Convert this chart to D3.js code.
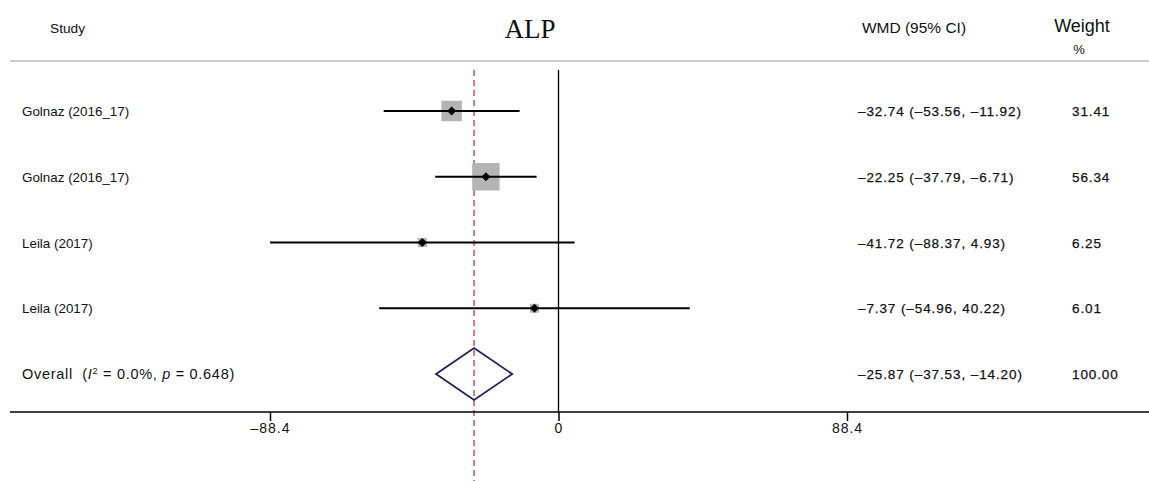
<!DOCTYPE html>
<html>
<head>
<meta charset="utf-8">
<script src="https://cdn.jsdelivr.net/npm/d3@7"></script>
<style>
  html, body { margin: 0; padding: 0; background: #fff; }
  text { font-family: "Liberation Sans", Arial, Helvetica, sans-serif; fill: #111; white-space: pre; }
</style>
</head>
<body>
<svg id="chart" width="1149" height="481"></svg>
<script>
// Study-level estimates (WMD with 95% CI) and weights
const studies = ["Golnaz (2016_17)", "Golnaz (2016_17)", "Leila (2017)", "Leila (2017)"];
const estimates = [-32.74, -22.25, -41.72, -7.37];
const lower = [-53.56, -37.79, -88.37, -54.96];
const upper = [-11.92, -6.71, 4.93, 40.22];
const weights = [31.41, 56.34, 6.25, 6.01];

// Pooled estimate
const overall = { est: -25.87, lo: -37.53, hi: -14.20, weight: 100.00 };
const overallLabel = "Overall";
const heterogeneity = { i2: "0.0%", p: "0.648" };

const axisTicks = [-88.4, 0, 88.4];
const axisTickLabels = ["\u201388.4", "0", "88.4"];

const svg = d3.select("#chart");
const W = 1149, H = 481;

const x = d3.scaleLinear().domain([-88.4, 88.4]).range([270, 847]);
const rowIdx = d3.range(studies.length + 1);
const y = d3.scalePoint().domain(rowIdx).range([111, 374]);
const boxSide = d => 3.65 * Math.sqrt(d);

const axisY = 412;
const fmt = v => (v < 0 ? "\u2013" : "") + Math.abs(v).toFixed(2);

// Numeric columns are set a touch heavier and wider-tracked
const numText = sel => sel.attr("font-size", 13.5).attr("letter-spacing", 0.9)
  .attr("stroke", "#111").attr("stroke-width", 0.25);

// Header
svg.append("text").attr("x", 50).attr("y", 33).attr("font-size", 13.7).text("Study");
svg.append("text").attr("x", 530).attr("y", 38).attr("text-anchor", "middle")
  .attr("font-size", 27).style("font-family", "'Liberation Serif', 'Times New Roman', serif").text("ALP");
svg.append("text").attr("x", 914).attr("y", 33).attr("text-anchor", "middle").attr("font-size", 15.5).text("WMD (95% CI)");
svg.append("text").attr("x", 1082).attr("y", 32).attr("text-anchor", "middle").attr("font-size", 18).text("Weight");
svg.append("text").attr("x", 1079).attr("y", 54).attr("text-anchor", "middle").attr("font-size", 13).text("%");

svg.append("line").attr("x1", 10).attr("x2", W).attr("y1", 61).attr("y2", 61)
  .attr("stroke", "#bdbdbd").attr("stroke-width", 1.5);

// Null line
svg.append("line").attr("x1", x(0)).attr("x2", x(0)).attr("y1", 70).attr("y2", axisY)
  .attr("stroke", "#000").attr("stroke-width", 1.3);

// Overall effect dashed line
svg.append("line").attr("x1", x(overall.est)).attr("x2", x(overall.est)).attr("y1", 70).attr("y2", H)
  .attr("stroke", "#b0404d").attr("stroke-width", 1.3).attr("stroke-dasharray", "6,4");

// Study rows
studies.forEach((s, i) => {
  const cy = y(i);
  const side = boxSide(weights[i]);
  svg.append("rect").attr("x", x(estimates[i]) - side / 2).attr("y", cy - side / 2)
    .attr("width", side).attr("height", side).attr("fill", "#b4b4b4");
  svg.append("line").attr("x1", x(lower[i])).attr("x2", x(upper[i])).attr("y1", cy).attr("y2", cy)
    .attr("stroke", "#000").attr("stroke-width", 2);
  const r = 4.5;
  const cx = x(estimates[i]);
  svg.append("path")
    .attr("d", `M${cx - r},${cy} L${cx},${cy - r} L${cx + r},${cy} L${cx},${cy + r} Z`)
    .attr("fill", "#000");
  svg.append("text").attr("x", 22).attr("y", cy + 5).attr("font-size", 13.4).text(s);
  svg.append("text").attr("x", 858).attr("y", cy + 5)
    .text(`${fmt(estimates[i])} (${fmt(lower[i])}, ${fmt(upper[i])})`).call(numText);
  svg.append("text").attr("x", 1072).attr("y", cy + 5).text(weights[i].toFixed(2)).call(numText);
});

// Overall row
const oy = y(studies.length);
const dh = 26;
svg.append("path")
  .attr("d", `M${x(overall.lo)},${oy} L${x(overall.est)},${oy - dh} L${x(overall.hi)},${oy} L${x(overall.est)},${oy + dh} Z`)
  .attr("fill", "none").attr("stroke", "#1f1f5e").attr("stroke-width", 1.8);

const ot = svg.append("text").attr("x", 22).attr("y", oy + 5).attr("font-size", 14.5).attr("letter-spacing", 0.7);
ot.append("tspan").text(overallLabel + "  (");
ot.append("tspan").attr("font-style", "italic").text("I");
ot.append("tspan").attr("font-size", 9).attr("dy", -5).text("2");
ot.append("tspan").attr("dy", 5).text(` = ${heterogeneity.i2}, `);
ot.append("tspan").attr("font-style", "italic").text("p");
ot.append("tspan").text(` = ${heterogeneity.p})`);

svg.append("text").attr("x", 858).attr("y", oy + 5)
  .text(`${fmt(overall.est)} (${fmt(overall.lo)}, ${fmt(overall.hi)})`).call(numText);
svg.append("text").attr("x", 1072).attr("y", oy + 5).text(overall.weight.toFixed(2)).call(numText);

// X axis
svg.append("line").attr("x1", 10).attr("x2", W).attr("y1", axisY).attr("y2", axisY)
  .attr("stroke", "#000").attr("stroke-width", 1.5);
const axis = d3.axisBottom(x).tickValues(axisTicks).tickSize(9).tickPadding(2)
  .tickFormat((d, i) => axisTickLabels[i]);
const ag = svg.append("g").attr("transform", `translate(0,${axisY})`).call(axis);
ag.select(".domain").remove();
ag.selectAll(".tick line").attr("stroke", "#000").attr("stroke-width", 1.5);
ag.selectAll(".tick text").attr("font-size", 14).attr("letter-spacing", 1)
  .style("fill", "#111").style("font-family", "'Liberation Sans', Arial, sans-serif");
</script>
</body>
</html>
